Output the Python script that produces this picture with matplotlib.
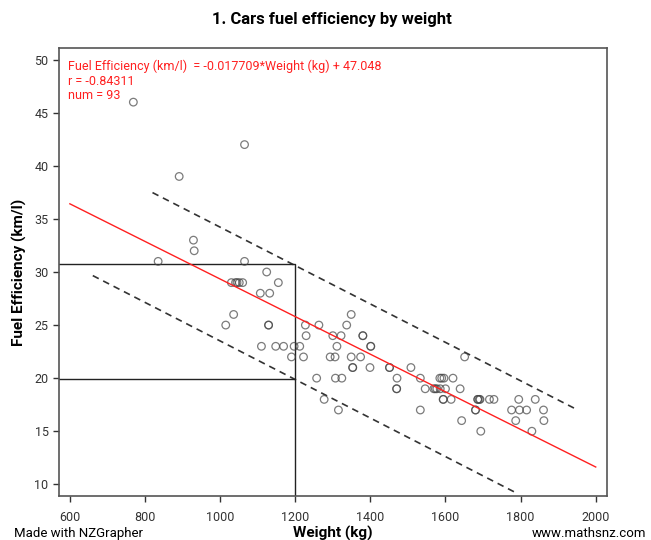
import matplotlib
matplotlib.use('Agg')
import matplotlib.pyplot as plt

plt.rcParams['font.family'] = ['Roboto', 'DejaVu Sans']

# weights (kg) and fuel efficiency (km/l)
weight = [769, 1065, 891, 929, 931, 835, 1065, 1124,
          1030, 1041, 1045, 1051, 1060, 1155, 1107, 1132, 1036, 1015,
          1129, 1129, 1227, 1263, 1337, 1349, 1229, 1300, 1322, 1380, 1380,
          1110, 1148, 1169, 1197, 1212, 1311, 1401, 1401,
          1190, 1222, 1293, 1306, 1349, 1374, 1651,
          1353, 1353, 1399, 1451, 1451, 1508,
          1257, 1307, 1324, 1471, 1533, 1585, 1590, 1596, 1620,
          1470, 1470, 1546, 1569, 1573, 1577, 1586, 1600, 1639,
          1277, 1594, 1594, 1615, 1686, 1686, 1690, 1692, 1717, 1729, 1795, 1839,
          1315, 1533, 1680, 1680, 1776, 1797, 1816, 1861,
          1643, 1787, 1862, 1694, 1830]
fuel = [46, 42, 39, 33, 32, 31, 31, 30,
        29, 29, 29, 29, 29, 29, 28, 28, 26, 25,
        25, 25, 25, 25, 25, 26, 24, 24, 24, 24, 24,
        23, 23, 23, 23, 23, 23, 23, 23,
        22, 22, 22, 22, 22, 22, 22,
        21, 21, 21, 21, 21, 21,
        20, 20, 20, 20, 20, 20, 20, 20, 20,
        19, 19, 19, 19, 19, 19, 19, 19, 19,
        18, 18, 18, 18, 18, 18, 18, 18, 18, 18, 18, 18,
        17, 17, 17, 17, 17, 17, 17, 17,
        16, 16, 16, 15, 15]

slope = -0.017709
intercept = 47.048
fit_x = [600, 2000]

upper_x = [820, 1945]
upper_y = [37.48, 17.13]
lower_x = [661, 1784]
lower_y = [29.66, 9.27]

pred_x = 1200
pred_hi = 30.75
pred_lo = 19.9

fig = plt.figure(figsize=(6.51, 5.4), dpi=100)
ax = fig.add_axes([0.0906, 0.0815, 0.8418, 0.8296])

ax.scatter(weight, fuel, s=30, facecolors='none', edgecolors='#444444',
           linewidths=0.9, alpha=0.7, zorder=3)

ax.plot(fit_x, [slope * x + intercept for x in fit_x], color='#ff2020', lw=1.0, zorder=4)
ax.plot(upper_x, upper_y, color='#333333', lw=1.2, dashes=(4, 3))
ax.plot(lower_x, lower_y, color='#333333', lw=1.2, dashes=(4, 3))

ax.plot([571, pred_x, pred_x], [pred_hi, pred_hi, 8.9], color='#222222', lw=1.0)
ax.plot([571, pred_x], [pred_lo, pred_lo], color='#222222', lw=1.0)

ax.set_xlim(571, 2030)
ax.set_ylim(8.9, 51.1)
ax.set_xticks(range(600, 2001, 200))
ax.set_yticks(range(10, 51, 5))
ax.tick_params(colors='#333333', labelsize=9, length=4, width=1)
ax.tick_params(axis='x', pad=7)
for s in ax.spines.values():
    s.set_color('#555555')
    s.set_linewidth(1.2)

ax.set_ylabel('Fuel Efficiency (km/l)', fontsize=11, fontweight='bold', labelpad=5)

ax.text(0.0165, 0.974, 'Fuel Efficiency (km/l)  = -0.017709*Weight (kg) + 47.048\n'
        'r = -0.84311\nnum = 93', transform=ax.transAxes, color='#ff2020',
        fontsize=9, va='top', ha='left', linespacing=1.15)

fig.text(0.51, 0.963, '1. Cars fuel efficiency by weight', ha='center', va='center',
         fontsize=12, fontweight='bold')
fig.text(0.512, 0.0125, 'Weight (kg)', ha='center', va='center',
         fontsize=11, fontweight='bold')
fig.text(0.021, 0.012, 'Made with NZGrapher', ha='left', va='center', fontsize=9.5)
fig.text(0.992, 0.012, 'www.mathsnz.com', ha='right', va='center', fontsize=9.5)

plt.savefig('out.png', dpi=100)
